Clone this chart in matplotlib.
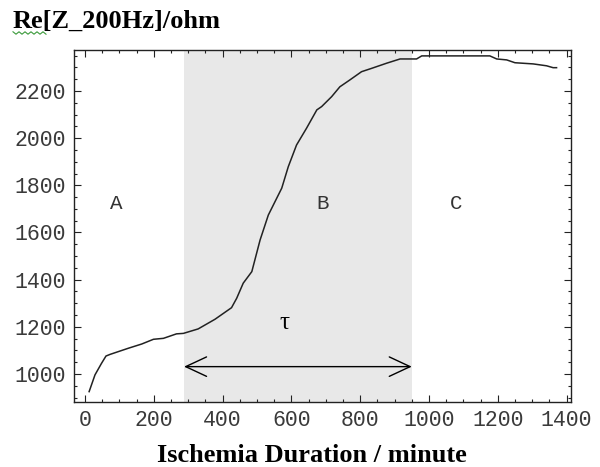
import matplotlib as mpl
mpl.use('agg')
import matplotlib.pyplot as plt
from matplotlib.patches import FancyArrowPatch
from matplotlib.lines import Line2D

minutes = [12, 29, 48, 61, 73, 126, 165, 199, 228, 266, 286, 329, 378, 426,
           441, 460, 485, 509, 533, 572, 591, 615, 644, 674, 688, 717, 741,
           770, 804, 833, 877, 916, 964, 979, 1177, 1197, 1226, 1250, 1303,
           1342, 1361, 1371]
ohms = [925, 996, 1045, 1076, 1083, 1109, 1127, 1147, 1151, 1170, 1172, 1191,
        1232, 1281, 1321, 1385, 1434, 1568, 1674, 1788, 1879, 1971, 2042,
        2120, 2134, 2176, 2218, 2247, 2282, 2296, 2318, 2336, 2336, 2349,
        2349, 2336, 2332, 2320, 2315, 2307, 2299, 2299]

phase_b = (288, 950)        # shaded phase B / tau interval
phase_names = ['A', 'B', 'C']
phase_x = [90, 691, 1078]

x_ticks = [0, 200, 400, 600, 800, 1000, 1200, 1400]
y_ticks = [1000, 1200, 1400, 1600, 1800, 2000, 2200]

mono = 'Liberation Mono'
serif = 'Liberation Serif'


def main():
    fig = plt.figure(figsize=(6.0, 4.67), dpi=100)
    ax = fig.add_axes([74 / 600, 65 / 467, 497 / 600, 352 / 467])

    ax.axvspan(phase_b[0], phase_b[1], color='#e8e8e8', lw=0, zorder=0)
    ax.plot(minutes, ohms, color='#222222', lw=1.1, zorder=2)

    # tau arrow
    arrow = FancyArrowPatch((phase_b[0], 1031), (phase_b[1], 1031),
                            arrowstyle='<->,head_length=15,head_width=7',
                            mutation_scale=1, color='black', lw=1.0,
                            shrinkA=0, shrinkB=0, zorder=3)
    ax.add_patch(arrow)
    ax.text(581, 1216, '\u03c4', fontsize=18, family=serif,
            ha='center', va='center')

    for name, xv in zip(phase_names, phase_x):
        ax.text(xv, 1725, name, fontsize=15, family=mono,
                ha='center', va='center', color='#333333')

    ax.set_xlim(-32, 1413)
    ax.set_ylim(881, 2374)
    ax.set_xticks(x_ticks)
    ax.set_yticks(y_ticks)
    ax.set_xticks(range(0, 1401, 50), minor=True)
    ax.set_yticks(range(900, 2351, 50), minor=True)
    ax.tick_params(which='both', direction='in', top=True, right=True,
                   width=0.8, color='#222222')
    ax.tick_params(which='major', length=5)
    ax.tick_params(which='minor', length=2.5)
    ax.tick_params(labelsize=15.5, pad=6)
    for lab in ax.get_xticklabels() + ax.get_yticklabels():
        lab.set_family(mono)
        lab.set_color('#3a3a3a')
    for sp in ax.spines.values():
        sp.set_linewidth(1.0)
        sp.set_color('#222222')

    fig.text(13 / 600, 1 - 21 / 467, 'Re[Z_200Hz]/ohm', fontsize=19,
             family=serif, fontweight='bold', ha='left', va='center')
    # spell-check squiggle under "Re"
    sq_x = [13 + 3 * i for i in range(12)]
    sq_y = [33 + (1.2 if i % 2 else -1.2) for i in range(12)]
    fig.add_artist(Line2D([v / 600 for v in sq_x],
                          [1 - v / 467 for v in sq_y],
                          color='#3a9a3a', lw=0.8))
    fig.text(312 / 600, 1 - 456 / 467, 'Ischemia Duration / minute',
             fontsize=19, family=serif, fontweight='bold',
             ha='center', va='center')

    fig.savefig('out.png', dpi=100)


if __name__ == '__main__':
    main()
